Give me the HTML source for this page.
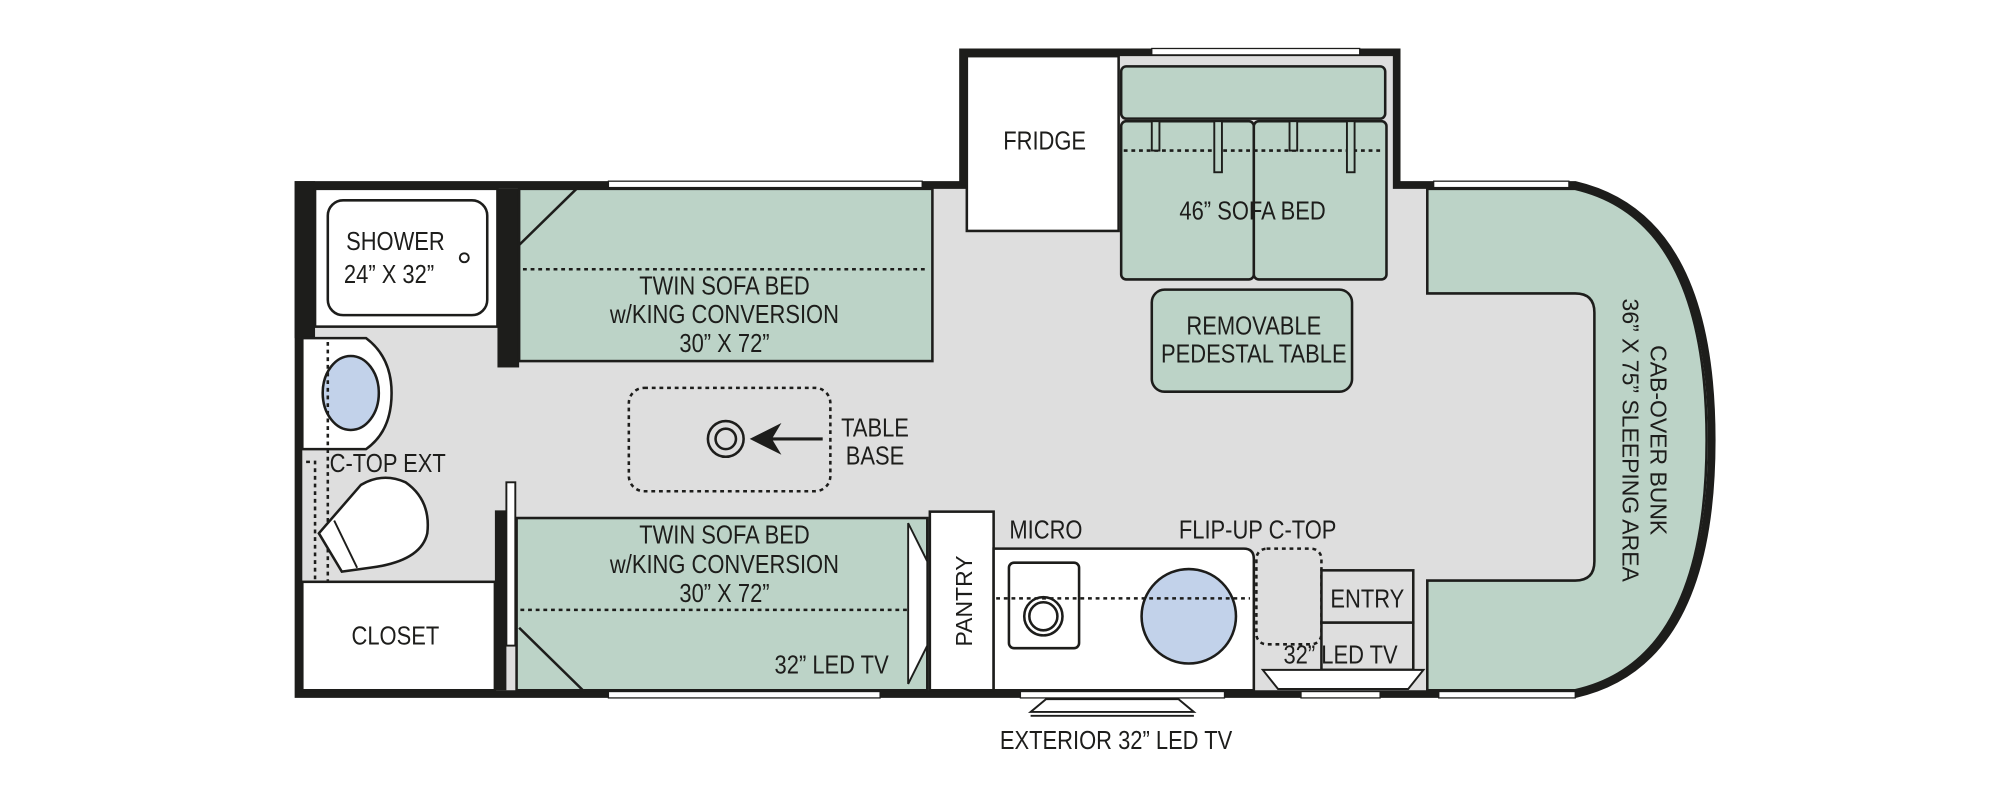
<!DOCTYPE html>
<html><head><meta charset="utf-8"><style>
html,body{margin:0;padding:0;background:#fff;}
svg{display:block}
text{font-family:"Liberation Sans",sans-serif;font-size:20px;fill:#1d1d1b;text-anchor:middle;transform-box:fill-box;transform-origin:center;transform:scaleX(0.86)}
text.r{transform:none;font-size:18px}
</style></head><body>
<svg width="2000" height="800" viewBox="0 0 1568 627" preserveAspectRatio="none" xmlns="http://www.w3.org/2000/svg">
<g stroke="#1d1d1b" stroke-width="2">
<path d="M234,145 L755,145 L755,41 L1095,41 L1095,145 L1235,145 Q1342,170 1342,345 Q1342,520 1235,544 L234,544 Z" fill="#dedede" stroke="none"/>
<path d="M234,145 L755,145 L755,41 L1095,41 L1095,145 L1235,145 Q1342,170 1342,345 Q1342,520 1235,544 L234,544 Z" fill="none" stroke="#1d1d1b" stroke-width="6"/>
<rect x="231" y="142" width="16" height="123" fill="#1d1d1b" stroke="none"/>
<rect x="477" y="142" width="246" height="5" fill="#fff" stroke="#1d1d1b" stroke-width="1"/>
<rect x="903" y="38" width="163" height="5" fill="#fff" stroke="#1d1d1b" stroke-width="1"/>
<rect x="1124" y="142" width="106" height="5" fill="#fff" stroke="#1d1d1b" stroke-width="1"/>
<rect x="477" y="542" width="213" height="5" fill="#fff" stroke="#1d1d1b" stroke-width="1"/>
<rect x="1020" y="542" width="62" height="5" fill="#fff" stroke="#1d1d1b" stroke-width="1"/>
<rect x="1128" y="542" width="107" height="5" fill="#fff" stroke="#1d1d1b" stroke-width="1"/>
<rect x="800" y="542" width="160" height="5" fill="#fff" stroke="#1d1d1b" stroke-width="1"/>

<rect x="247" y="148" width="143" height="108" fill="#fff"/>
<rect x="257" y="157" width="125" height="90" rx="12" fill="#fff"/>
<circle cx="364" cy="202" r="3.5" fill="#fff" stroke-width="1.5"/>
<rect x="390" y="148" width="17" height="140" fill="#1d1d1b" stroke="none"/>

<rect x="407" y="148" width="324" height="135" fill="#bcd3c7"/>
<line x1="407" y1="192" x2="452" y2="148"/>
<line x1="410" y1="211" x2="728" y2="211" stroke-dasharray="3,3"/>

<rect x="758" y="44" width="119" height="137" fill="#fff"/>

<rect x="879" y="52" width="207" height="41" rx="4" fill="#bcd3c7"/>
<rect x="879" y="95" width="104" height="124" rx="4" fill="#bcd3c7"/>
<rect x="983" y="95" width="104" height="124" rx="4" fill="#bcd3c7"/>
<line x1="881" y1="118" x2="1085" y2="118" stroke-dasharray="3,3"/>
<g stroke-width="1.5" fill="#bcd3c7">
<rect x="903" y="95" width="6" height="23"/><rect x="952" y="95" width="6" height="40"/>
<rect x="1011" y="95" width="6" height="23"/><rect x="1056" y="95" width="6" height="40"/>
</g>

<rect x="903" y="227" width="157" height="80" rx="10" fill="#bcd3c7"/>

<path d="M1119,148 L1235,148 Q1338,172 1338,345 Q1338,518 1235,541 L1119,541 L1119,455 L1235,455 Q1250,455 1250,440 L1250,245 Q1250,230 1235,230 L1119,230 Z" fill="#bcd3c7"/>

<path d="M237,265 L287,265 Q307,280 307,308 Q307,338 287,352 L237,352 Z" fill="#fff"/>
<ellipse cx="275" cy="308" rx="22" ry="29" fill="#c2d2ea"/>
<line x1="257" y1="268" x2="257" y2="455" stroke-dasharray="3,3"/>
<path d="M240,362 L247,362 L247,455" fill="none" stroke-dasharray="3,3"/>
<path d="M250,418 L283,380 Q300,370 318,378 Q338,392 335,418 Q330,440 290,445 L268,448 Z" fill="#fff"/>
<line x1="262" y1="408" x2="280" y2="445" stroke-width="1.5"/>

<rect x="237" y="456" width="151" height="85" fill="#fff"/>
<rect x="388" y="400" width="9" height="141" fill="#1d1d1b" stroke="none"/>
<rect x="397" y="378" width="7" height="128" fill="#fff" stroke-width="1.5"/>

<rect x="405" y="406" width="322" height="135" fill="#bcd3c7"/>
<line x1="407" y1="492" x2="457" y2="541"/>
<line x1="408" y1="478" x2="712" y2="478" stroke-dasharray="3,3"/>
<path d="M712,410 L727,440 L727,506 L712,536 Z" fill="#fff" stroke-width="1.5"/>

<rect x="729" y="401" width="50" height="140" fill="#fff"/>

<path d="M779,430 L975,430 Q983,430 983,438 L983,541 L779,541 Z" fill="#fff"/>
<rect x="791" y="441" width="55" height="67" rx="4" fill="#fff"/>
<circle cx="818" cy="483" r="15" fill="#fff"/><circle cx="818" cy="483" r="11" fill="#fff"/>
<circle cx="932" cy="483" r="37" fill="#c2d2ea"/>
<line x1="781" y1="469" x2="980" y2="469" stroke-dasharray="3,3"/>
<rect x="985" y="430" width="51" height="75" rx="8" fill="none" stroke-dasharray="3,3"/>

<rect x="1036" y="447" width="72" height="41" fill="#dedede"/>
<rect x="1036" y="488" width="72" height="37" fill="#dedede"/>
<path d="M990,525 L1116,525 L1104,540 L1002,540 Z" fill="#fff" stroke-width="1.5"/>

<rect x="493" y="304" width="158" height="81" rx="12" fill="none" stroke-dasharray="3,3"/>
<circle cx="569" cy="344" r="14" fill="none"/><circle cx="569" cy="344" r="8" fill="none"/>
<line x1="600" y1="344" x2="645" y2="344" stroke-width="2.5"/>
<path d="M590,344 L610,334 L604,344 L610,354 Z" fill="#1d1d1b"/>

<path d="M820,548 L924,548 L936,558 L808,558 Z" fill="#fff" stroke-width="1.5"/>
<line x1="808" y1="561" x2="936" y2="561" stroke-width="1.5"/>
</g>

<text x="819" y="117">FRIDGE</text>
<text x="982" y="172">46” SOFA BED</text>
<text x="983" y="262">REMOVABLE</text>
<text x="983" y="284">PEDESTAL TABLE</text>
<text x="310" y="196">SHOWER</text>
<text x="305" y="222">24” X 32”</text>
<text x="568" y="231">TWIN SOFA BED</text>
<text x="568" y="253">w/KING CONVERSION</text>
<text x="568" y="276">30” X 72”</text>
<text x="686" y="342">TABLE</text>
<text x="686" y="364">BASE</text>
<text x="304" y="370">C-TOP EXT</text>
<text x="310" y="505">CLOSET</text>
<text x="568" y="426">TWIN SOFA BED</text>
<text x="568" y="449">w/KING CONVERSION</text>
<text x="568" y="472">30” X 72”</text>
<text x="652" y="528">32” LED TV</text>
<text x="820" y="422">MICRO</text>
<text x="986" y="422">FLIP-UP C-TOP</text>
<text x="1072" y="476">ENTRY</text>
<text x="1051" y="520">32” LED TV</text>
<text x="875" y="587">EXTERIOR 32” LED TV</text>
<g transform="translate(762,471) rotate(-90)"><text class="r" x="0" y="0">PANTRY</text></g>
<g transform="translate(1294,345) rotate(90)"><text class="r" x="0" y="0">CAB-OVER BUNK</text></g>
<g transform="translate(1272,345) rotate(90)"><text class="r" x="0" y="0">36” X 75” SLEEPING AREA</text></g>
</svg>
</body></html>
